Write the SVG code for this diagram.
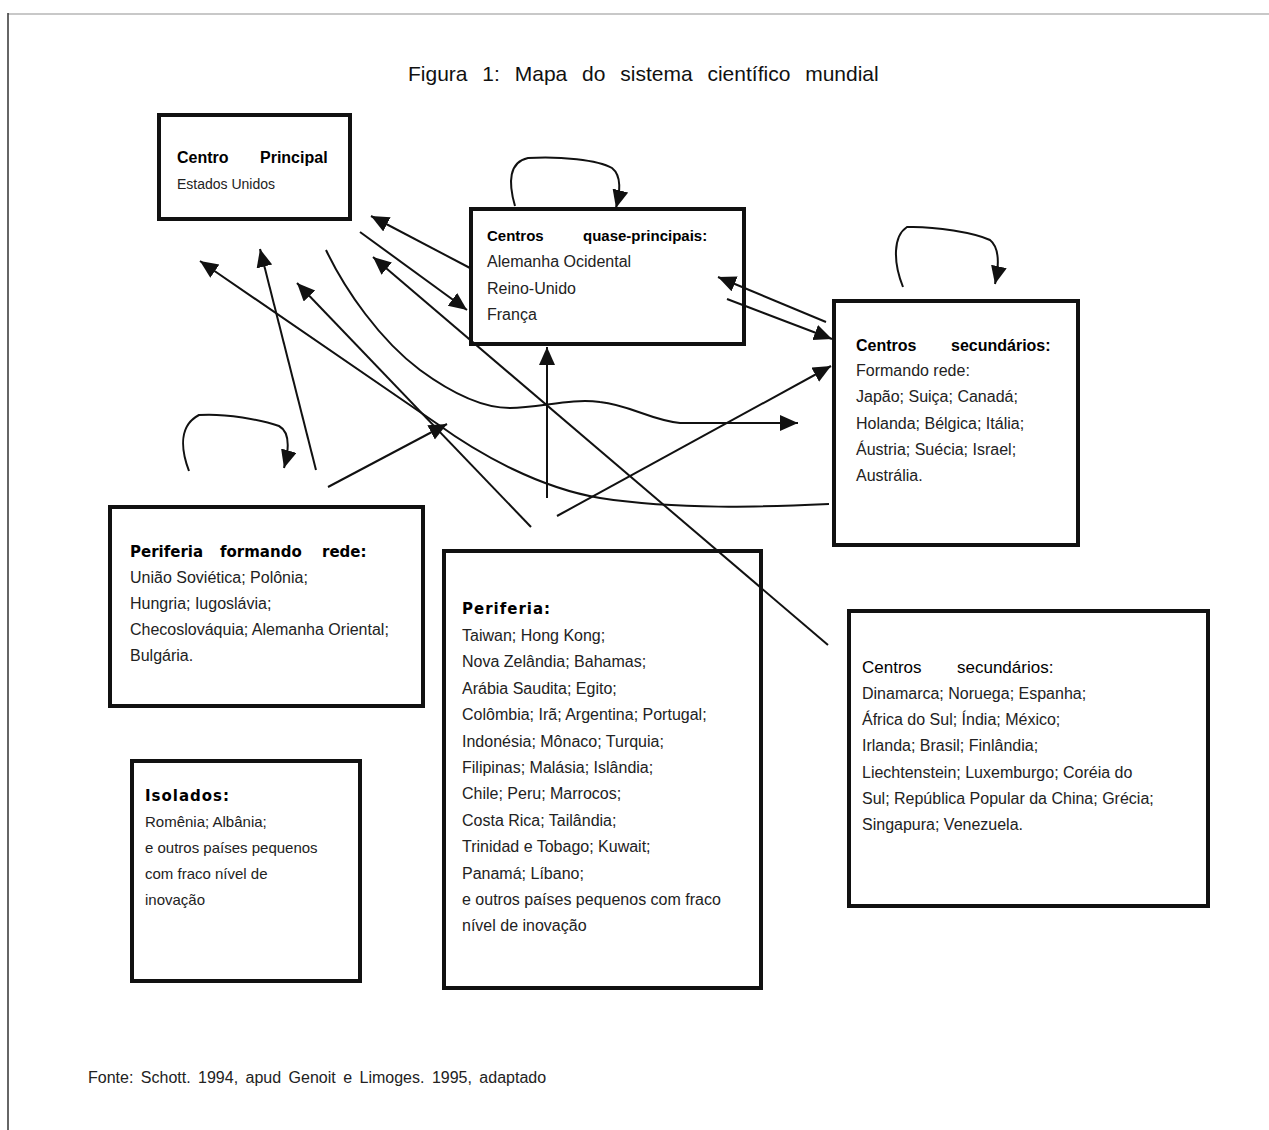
<svg xmlns="http://www.w3.org/2000/svg" width="1269" height="1130" viewBox="0 0 1269 1130">
<style>
.box{fill:#fff;stroke:#111;stroke-width:4}
.c{fill:none;stroke:#111;stroke-width:2}
.t{font-family:"Liberation Sans",Arial,sans-serif;font-size:16px;fill:#222}
.s{font-size:14px}
.b{font-family:"Liberation Sans",Arial,sans-serif;font-weight:bold;font-size:15px;fill:#000}
.d{font-family:"DejaVu Sans",Verdana,sans-serif;font-weight:bold;font-size:15px;fill:#000;letter-spacing:1px}
.ttl{font-family:"Liberation Sans",Arial,sans-serif;font-size:21px;fill:#111;word-spacing:9px}
.ft{font-family:"Liberation Sans",Arial,sans-serif;font-size:16px;fill:#222;word-spacing:3px}
</style>
<defs>
<marker id="ah" markerUnits="userSpaceOnUse" markerWidth="20" markerHeight="18" refX="18" refY="8" orient="auto">
<path d="M0,0 L18,8 L0,16 z" fill="#111"/>
</marker>
</defs>
<rect width="1269" height="1130" fill="#fff"/>
<line x1="8" y1="14" x2="1269" y2="14" stroke="#c8c8c8" stroke-width="2"/>
<line x1="8" y1="13" x2="8" y2="1130" stroke="#333" stroke-width="1.5"/>
<text class="ttl" x="408" y="81">Figura 1: Mapa do sistema científico mundial</text>

<g id="centro-principal">
<rect class="box" x="159" y="115" width="191" height="104"/>
<text class="b" x="177" y="163" style="font-size:16px">Centro</text>
<text class="b" x="260" y="163" style="font-size:16px">Principal</text>
<text class="t s" x="177" y="189">Estados Unidos</text>
</g>

<g id="centros-quase-principais">
<rect class="box" x="471" y="209" width="273" height="135"/>
<text class="b" x="487" y="241">Centros</text>
<text class="b" x="583" y="241">quase-principais:</text>
<text class="t" x="487" y="267">Alemanha Ocidental</text>
<text class="t" x="487" y="294">Reino-Unido</text>
<text class="t" x="487" y="320">França</text>
</g>

<g id="centros-secundarios-rede">
<rect class="box" x="834" y="301" width="244" height="244"/>
<text class="b" x="856" y="351" style="font-size:16px">Centros</text>
<text class="b" x="951" y="351" style="font-size:16px">secundários:</text>
<text class="t" x="856" y="376">Formando rede:</text>
<text class="t" x="856" y="402">Japão; Suiça; Canadá;</text>
<text class="t" x="856" y="429">Holanda; Bélgica; Itália;</text>
<text class="t" x="856" y="455">Áustria; Suécia; Israel;</text>
<text class="t" x="856" y="481">Austrália.</text>
</g>

<g id="periferia-formando-rede">
<rect class="box" x="110" y="507" width="313" height="199"/>
<text class="d" x="130" y="557" style="letter-spacing:0">Periferia</text>
<text class="d" x="220" y="557" style="letter-spacing:0">formando</text>
<text class="d" x="322" y="557" style="letter-spacing:0">rede:</text>
<text class="t" x="130" y="583">União Soviética; Polônia;</text>
<text class="t" x="130" y="609">Hungria; Iugoslávia;</text>
<text class="t" x="130" y="635">Checoslováquia; Alemanha Oriental;</text>
<text class="t" x="130" y="661">Bulgária.</text>
</g>

<g id="periferia">
<rect class="box" x="444" y="551" width="317" height="437"/>
<text class="d" x="462" y="614">Periferia:</text>
<text class="t" x="462" y="641">Taiwan; Hong Kong;</text>
<text class="t" x="462" y="667">Nova Zelândia; Bahamas;</text>
<text class="t" x="462" y="694">Arábia Saudita; Egito;</text>
<text class="t" x="462" y="720">Colômbia; Irã; Argentina; Portugal;</text>
<text class="t" x="462" y="747">Indonésia; Mônaco; Turquia;</text>
<text class="t" x="462" y="773">Filipinas; Malásia; Islândia;</text>
<text class="t" x="462" y="799">Chile; Peru; Marrocos;</text>
<text class="t" x="462" y="826">Costa Rica; Tailândia;</text>
<text class="t" x="462" y="852">Trinidad e Tobago; Kuwait;</text>
<text class="t" x="462" y="879">Panamá; Líbano;</text>
<text class="t" x="462" y="905">e outros países pequenos com fraco</text>
<text class="t" x="462" y="931">nível de inovação</text>
</g>

<g id="centros-secundarios">
<rect class="box" x="849" y="611" width="359" height="295"/>
<text class="t" x="862" y="673" style="font-size:17px;fill:#000">Centros</text>
<text class="t" x="957" y="673" style="font-size:17px;fill:#000">secundários:</text>
<text class="t" x="862" y="699">Dinamarca; Noruega; Espanha;</text>
<text class="t" x="862" y="725">África do Sul; Índia; México;</text>
<text class="t" x="862" y="751">Irlanda; Brasil; Finlândia;</text>
<text class="t" x="862" y="778">Liechtenstein; Luxemburgo; Coréia do</text>
<text class="t" x="862" y="804">Sul; República Popular da China; Grécia;</text>
<text class="t" x="862" y="830">Singapura; Venezuela.</text>
</g>

<g id="isolados">
<rect class="box" x="132" y="761" width="228" height="220"/>
<text class="d" x="145" y="801">Isolados:</text>
<text class="t" x="145" y="827" style="font-size:15px">Romênia; Albânia;</text>
<text class="t" x="145" y="853" style="font-size:15px">e outros países pequenos</text>
<text class="t" x="145" y="879" style="font-size:15px">com fraco nível de</text>
<text class="t" x="145" y="905" style="font-size:15px">inovação</text>
</g>

<g id="connectors">
<path class="c" marker-end="url(#ah)" d="M515,206 C508,182 509,162 528,158 C560,156 598,160 612,168 C622,176 620,192 616,208"/>
<path class="c" marker-end="url(#ah)" d="M903,287 C893,262 893,236 907,227 C935,226 975,233 990,240 C1000,248 999,266 995,284"/>
<path class="c" marker-end="url(#ah)" d="M189,471 C180,447 180,425 199,415 C225,413 262,420 279,426 C290,432 289,450 284,468"/>
<path class="c" marker-end="url(#ah)" d="M470,268 L371,216"/>
<path class="c" marker-end="url(#ah)" d="M360,232 L467,310"/>
<path class="c" marker-end="url(#ah)" d="M828,645 L373,257"/>
<path class="c" marker-end="url(#ah)" d="M826,322 L718,277"/>
<path class="c" marker-end="url(#ah)" d="M727,299 L832,339"/>
<path class="c" marker-end="url(#ah)" d="M547,498 L547,347"/>
<path class="c" marker-end="url(#ah)" d="M557,516 L831,366"/>
<path class="c" marker-end="url(#ah)" d="M316,470 L260,249"/>
<path class="c" marker-end="url(#ah)" d="M328,487 L447,424"/>
<path class="c" marker-end="url(#ah)" d="M531,527 L297,283"/>
<path class="c" marker-end="url(#ah)" d="M829,504 C760,507 680,510 600,498 C540,488 480,455 436,423 L200,261"/>
<path class="c" marker-end="url(#ah)" d="M326,250 C345,290 380,340 420,370 C450,392 480,408 510,408 C540,408 570,398 600,402 C630,405 650,420 680,423 L798,423"/>
</g>

<text class="ft" x="88" y="1083">Fonte: Schott. 1994, apud Genoit e Limoges. 1995, adaptado</text>
</svg>
